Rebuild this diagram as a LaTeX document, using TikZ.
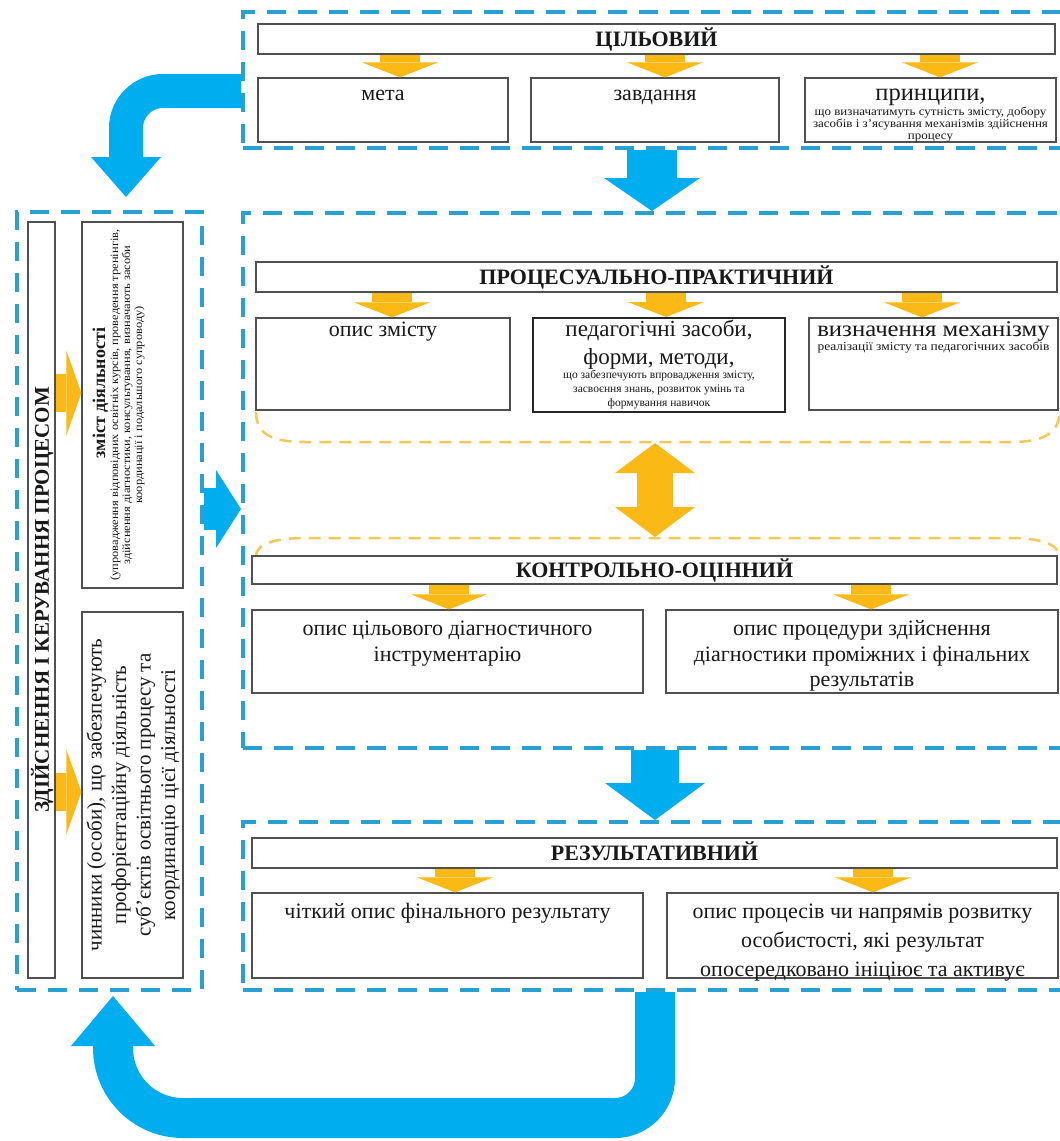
\documentclass[tikz,border=0pt]{standalone}
\usepackage{fontspec}
\setmainfont{Liberation Serif}
\newfontfamily\swide[FakeStretch=1.1]{Liberation Serif}
\usetikzlibrary{arrows.meta,fit,calc}
\definecolor{frm}{RGB}{40,160,210}
\definecolor{bluea}{RGB}{0,173,238}
\definecolor{yela}{RGB}{250,185,20}
\definecolor{yeld}{RGB}{245,200,85}
\definecolor{bxl}{RGB}{80,80,80}
\definecolor{ink}{RGB}{25,25,25}
\begin{document}
\begin{tikzpicture}[x=1pt,y=1pt,
  dfr/.style={draw=frm,line width=4pt,dash pattern=on 19pt off 12pt,inner sep=0pt},
  bx/.style={draw=bxl,line width=1.3pt,fill=white,inner sep=0pt},
  ttl/.style={font=\bfseries\fontsize{22}{26}\selectfont,text=ink,inner sep=0pt,text height=14.5pt,text depth=0pt},
  txt/.style={font=\fontsize{22}{29}\selectfont,text=ink,align=center,inner sep=0pt},
  sml/.style={font=\fontsize{11.5}{13}\selectfont,text=ink,align=center,inner sep=0pt},
  yarrow/.style={draw=yela,line width=40pt,-{Triangle[width=76pt,length=15pt,line width=0pt]}},
  yarrowh/.style={draw=yela,line width=38pt,-{Triangle[width=85pt,length=15pt,line width=0pt]}},
  ydbl/.style={draw=yela,line width=36pt,{Triangle[width=80pt,length=30pt,line width=0pt]}-{Triangle[width=80pt,length=30pt,line width=0pt]}},
  ydash/.style={draw=yeld,line width=2.5pt,dash pattern=on 12pt off 8pt},
  barrow/.style={draw=bluea}
]
\useasboundingbox (0,0) rectangle (1060,-1141);
\fill[white] (0,0) rectangle (1060,-1141);
\clip (0,0) rectangle (1060,-1141);

% dashed frames
\node[dfr, fit={(243,-12)(1080,-148)}] (f1) {};
\node[dfr, fit={(243,-213)(1080,-748)}] (f2) {};
\node[dfr, fit={(243,-822)(1080,-990)}] (f3) {};
\node[dfr, fit={(17,-212)(202,-990)}] (fl) {};

% ---- top block
\node[bx, fit={(258,-24)(1055,-54)}] (cil) {};
\node[ttl] (cilt) at (cil.center) {ЦІЛЬОВИЙ};
\node[bx, fit={(258,-78)(508,-142)}] (meta) {};
\node[bx, fit={(531,-78)(779,-142)}] (zavd) {};
\node[bx, fit={(805,-78)(1056,-142)}] (pryn) {};
\node[txt, anchor=base] (metat) at ($(meta.north)+(0,-23)$) {мета};
\node[txt, anchor=base] (zavdt) at ($(zavd.north)+(0,-23)$) {завдання};
\node[txt, anchor=base, font=\fontsize{24.5}{28}\selectfont] (prynt) at ($(pryn.north)+(0,-23)$) {принципи,};
\node[sml, anchor=north, font=\swide\fontsize{11.8}{12}\selectfont] (pryns) at ($(pryn.north)+(0,-29)$) {що визначатимуть сутність змісту, добору\\засобів і з’ясування механізмів здійснення\\процесу};

% ---- process block
\node[bx, fit={(256,-262)(1057,-292)}] (proc) {};
\node[ttl] (proct) at (proc.center) {ПРОЦЕСУАЛЬНО-ПРАКТИЧНИЙ};
\node[bx, fit={(256,-318)(510,-410)}] (opys) {};
\node[bx, fit={(533,-318)(785,-412)}, draw=black!85, line width=2pt] (ped) {};
\node[bx, fit={(809,-318)(1058,-410)}] (vyz) {};
\node[txt, anchor=base] (opyst) at ($(opys.north)+(0,-19)$) {опис змісту};
\node[txt, anchor=north, font=\fontsize{23}{28}\selectfont] (pedt) at ($(ped.north)+(0,-3)$) {педагогічні засоби,\\форми, методи,};
\node[sml, anchor=north, font=\fontsize{11.5}{14}\selectfont] (peds) at ($(ped.north)+(0,-53)$) {що забезпечують впровадження змісту,\\засвоєння знань, розвиток умінь та\\формування навичок};
\node[txt, anchor=base, font=\swide\fontsize{22.5}{28}\selectfont] (vyzt) at ($(vyz.north)+(0,-19)$) {визначення механізму};
\node[sml, anchor=north, font=\swide\fontsize{12.2}{13}\selectfont] (vyzs) at ($(vyz.north)+(0,-24)$) {реалізації змісту та педагогічних засобів};

% yellow dashed arcs and double arrow
\draw[ydash] (256,-412) .. controls (256,-436) and (275,-442) .. (305,-442) -- (1010,-442) .. controls (1040,-442) and (1058,-436) .. (1060,-412);
\draw[ydash] (256,-556) .. controls (256,-544) and (275,-538) .. (305,-538) -- (1010,-538) .. controls (1040,-538) and (1058,-544) .. (1060,-556);
\coordinate (da1) at (655,-443);
\coordinate (da2) at (655,-537);
\draw[ydbl] (da1) -- (da2);

% ---- control block
\node[bx, fit={(252,-556)(1057,-584)}] (kon) {};
\node[ttl] (kont) at (kon.center) {КОНТРОЛЬНО-ОЦІННИЙ};
\node[bx, fit={(252,-610)(643,-693)}] (k1) {};
\node[bx, fit={(666,-610)(1058,-693)}] (k2) {};
\node[txt, anchor=north, font=\fontsize{22}{26}\selectfont] (k1t) at ($(k1.north)+(0,-11)$) {опис цільового діагностичного\\інструментарію};
\node[txt, anchor=north, font=\fontsize{22}{25.5}\selectfont] (k2t) at ($(k2.north)+(0,-11)$) {опис процедури здійснення\\діагностики проміжних і фінальних\\результатів};

% ---- result block
\node[bx, fit={(252,-838)(1057,-868)}] (res) {};
\node[ttl] (rest) at (res.center) {РЕЗУЛЬТАТИВНИЙ};
\node[bx, fit={(252,-893)(643,-978)}] (r1) {};
\node[bx, fit={(667,-893)(1058,-978)}] (r2) {};
\node[txt, anchor=north] (r1t) at ($(r1.north)+(0,-11)$) {чіткий опис фінального результату};
\node[txt, anchor=north] (r2t) at ($(r2.north)+(0,-11)$) {опис процесів чи напрямів розвитку\\особистості, які результат\\опосередковано ініціює та активує};

% ---- left block
\node[bx, fit={(28,-222)(55,-978)}] (lt) {};
\node[ttl, rotate=90, font=\bfseries\fontsize{21}{25}\selectfont] (ltt) at (lt.center) {ЗДІЙСНЕННЯ І КЕРУВАННЯ ПРОЦЕСОМ};
\node[bx, fit={(82,-222)(183,-588)}] (lz) {};
\node[bx, fit={(82,-612)(183,-978)}] (lc) {};
\node[txt, rotate=90, anchor=north, font=\bfseries\fontsize{18}{20}\selectfont] (lzt) at (92.5,-393) {зміст діяльності};
\node[sml, rotate=90, anchor=north, font=\swide\fontsize{11.3}{12}\selectfont] (lzs) at (110,-405) {(упровадження відповідних освітніх курсів, проведення тренінгів,\\здійснення діагностики, консультування, визначають засоби\\координації і подальшого супроводу)};
\node[txt, rotate=90, font=\fontsize{21}{24.5}\selectfont] (lct) at (133,-795) {чинники (особи), що забезпечують\\профорієнтаційну діяльність\\суб’єктів освітнього процесу та\\координацію цієї діяльності};

% ---- yellow arrows
\coordinate (xa1) at (400,0);
\coordinate (xa2) at (665,0);
\coordinate (xa3) at (940,0);
\draw[yarrow] (cil.south -| xa1) -- (meta.north -| xa1);
\draw[yarrow] (cil.south -| xa2) -- (zavd.north -| xa2);
\draw[yarrow] (cil.south -| xa3) -- (pryn.north -| xa3);
\coordinate (xp1) at (392,0);
\coordinate (xp2) at (666,0);
\coordinate (xp3) at (922,0);
\draw[yarrow] (proc.south -| xp1) -- (opys.north -| xp1);
\draw[yarrow] (proc.south -| xp2) -- (ped.north -| xp2);
\draw[yarrow] (proc.south -| xp3) -- (vyz.north -| xp3);
\coordinate (xk1) at (449,0);
\coordinate (xk2) at (871,0);
\draw[yarrow] (kon.south -| xk1) -- (k1.north -| xk1);
\draw[yarrow] (kon.south -| xk2) -- (k2.north -| xk2);
\coordinate (xr1) at (455,0);
\coordinate (xr2) at (873,0);
\draw[yarrow] (res.south -| xr1) -- (r1.north -| xr1);
\draw[yarrow] (res.south -| xr2) -- (r2.north -| xr2);
\coordinate (yl1) at (0,-393);
\coordinate (yl2) at (0,-792);
\draw[yarrowh] (lt.east |- yl1) -- (lz.west |- yl1);
\draw[yarrowh] (lt.east |- yl2) -- (lc.west |- yl2);

% ---- blue arrows
\coordinate (xb1) at (652,0);
\coordinate (xb2) at (655,0);
\coordinate (yb3) at (0,-509);
\draw[barrow, line width=50pt, -{Triangle[width=96pt,length=33pt,line width=0pt]}] (f1.south -| xb1) -- (f2.north -| xb1);
\draw[barrow, line width=48pt, -{Triangle[width=100pt,length=37pt,line width=0pt]}] (f2.south -| xb2) -- (f3.north -| xb2);
\draw[barrow, line width=42pt, -{Triangle[width=78pt,length=25pt,line width=0pt]}] (fl.east |- yb3) -- (f2.west |- yb3);
\coordinate (yc1) at (0,-91);
\coordinate (xc1) at (126,0);
\draw[barrow, line width=34pt, -{Triangle[width=70pt,length=40pt,line width=0pt]}] (f1.west |- yc1) -- (163,-91) arc[start angle=90,end angle=180,radius=37] -- ($(fl.north -| xc1)+(0,13)$);
\coordinate (xu1) at (655,0);
\coordinate (xu2) at (113,0);
\draw[barrow, line width=40pt, -{Triangle[width=84pt,length=50pt,line width=0pt]}] (f3.south -| xu1) -- (655,-1078) arc[start angle=0,end angle=-90,radius=40] -- (183,-1118) arc[start angle=270,end angle=180,radius=70] -- ($(fl.south -| xu2)+(0,-4)$);
\end{tikzpicture}
\end{document}
